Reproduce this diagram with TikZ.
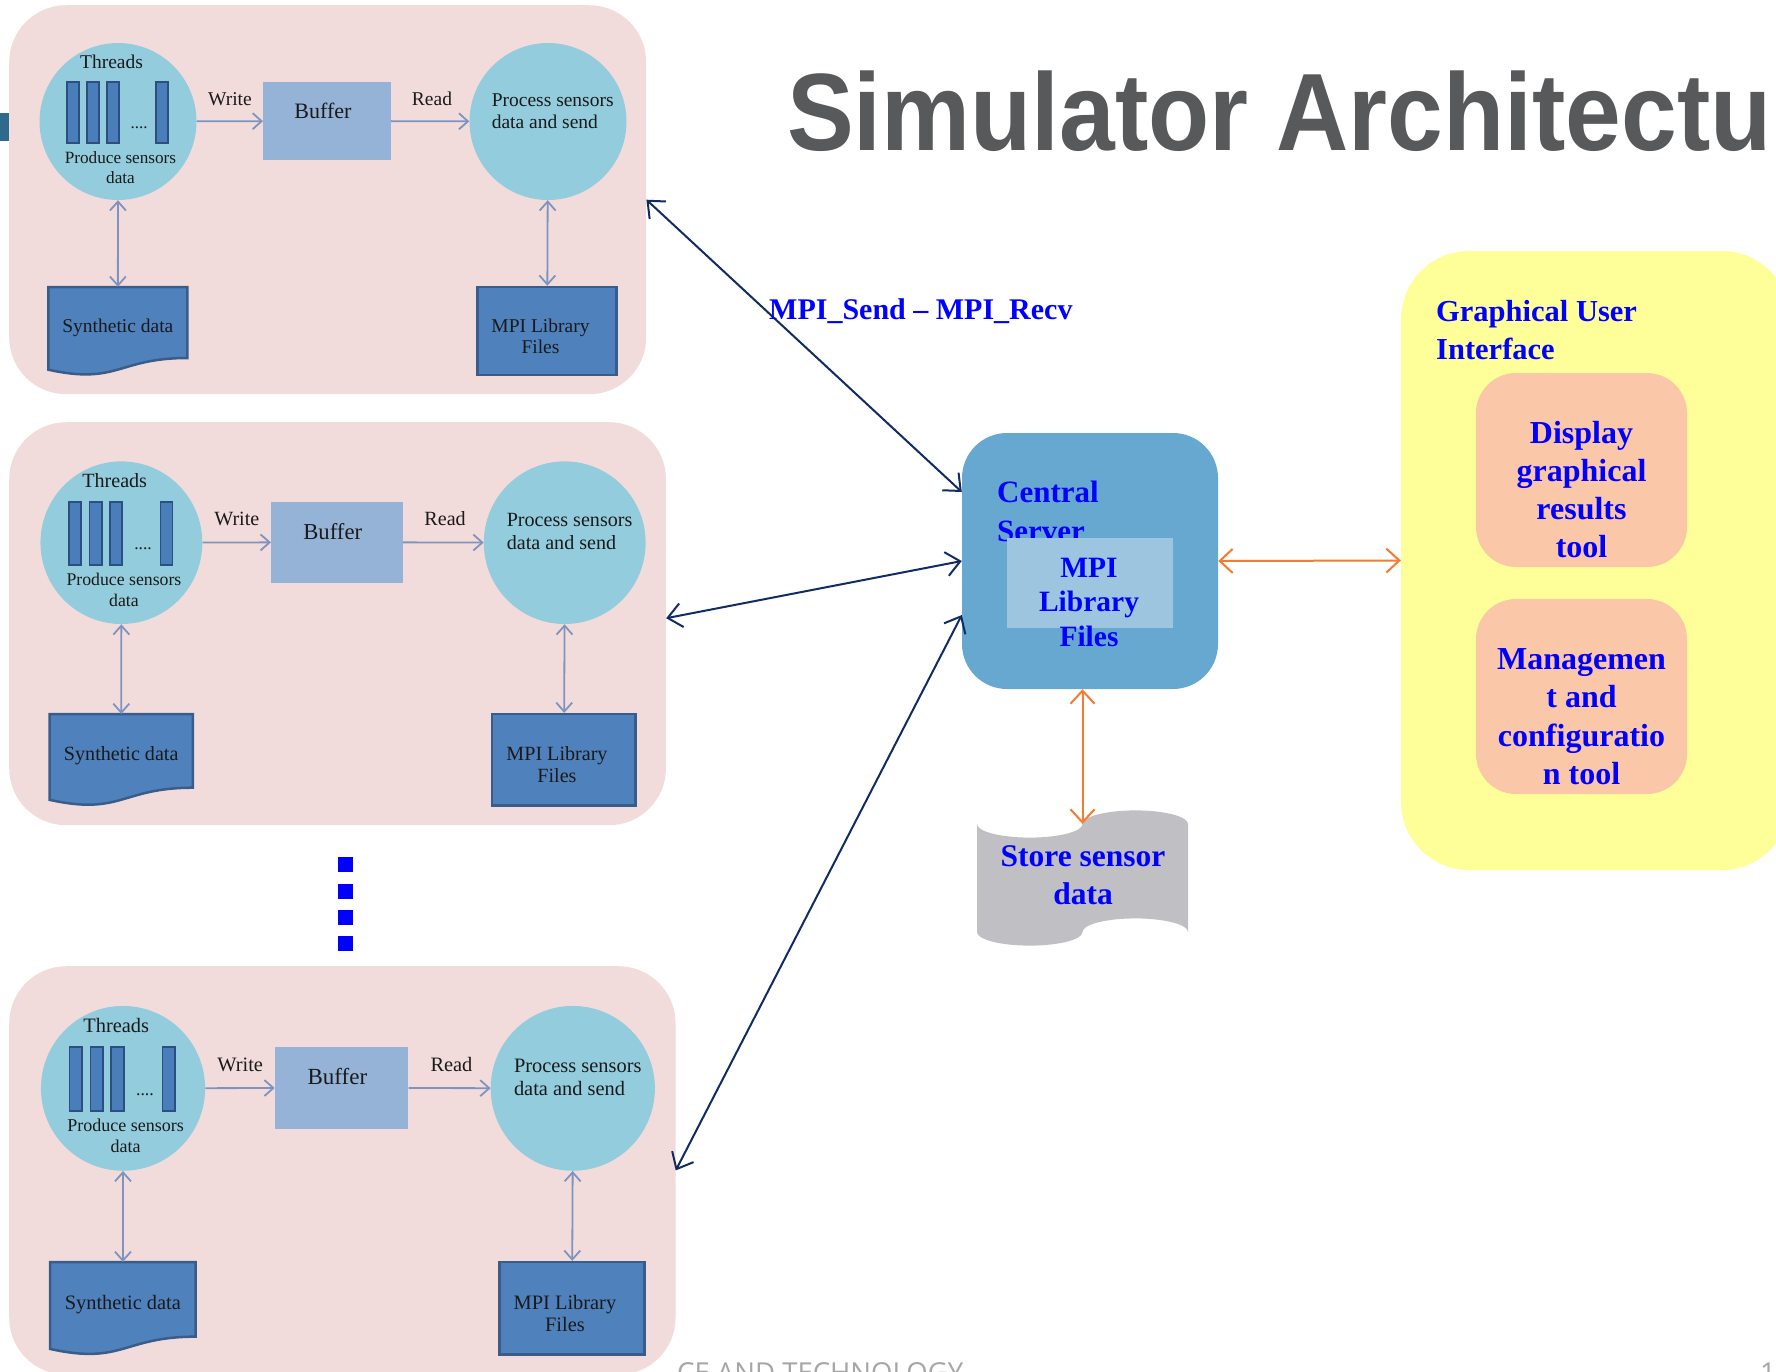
\documentclass[tikz,border=0pt]{standalone}
\usepackage{fontspec}
\setmainfont{Liberation Serif}
\newfontfamily\headfont{Liberation Sans}
\newfontfamily\footfont{Open Sans}
\usetikzlibrary{arrows.meta,calc}

\definecolor{panelpink}{HTML}{F2DCDB}
\definecolor{procfill}{HTML}{93CDDD}
\definecolor{buffill}{HTML}{95B3D7}
\definecolor{filefill}{HTML}{4F81BD}
\definecolor{fileedge}{HTML}{385D8A}
\definecolor{barfill}{HTML}{4A7EBB}
\definecolor{baredge}{HTML}{2C4F80}
\definecolor{flowline}{HTML}{7E94BE}
\definecolor{inktext}{HTML}{1A1A1A}
\definecolor{linknavy}{HTML}{102C62}
\definecolor{linkorange}{HTML}{F47B30}
\definecolor{serverfill}{HTML}{66A8D0}
\definecolor{serverinner}{HTML}{9DC5E0}
\definecolor{storegray}{HTML}{BFBFC4}
\definecolor{guiyellow}{HTML}{FFFF99}
\definecolor{toolpeach}{HTML}{FAC8A8}
\definecolor{titlegray}{HTML}{58595B}
\definecolor{footgray}{HTML}{A6A6A6}
\definecolor{tabbar}{HTML}{2D6A8E}
\definecolor{bluetext}{HTML}{0000FF}

% multi-line text whose baseline is that of the first line
\newcommand\linesc[1]{\begin{tabular}[t]{@{}c@{}}#1\end{tabular}}
\newcommand\linesl[1]{\begin{tabular}[t]{@{}l@{}}#1\end{tabular}}

\tikzset{
  flowtip/.tip={Straight Barb[length=9pt,width=16pt]},
  navytip/.tip={Straight Barb[length=14pt,width=24pt]},
  orangetip/.tip={Straight Barb[length=13pt,width=24pt]},
  panelbg/.style={rectangle, rounded corners=57pt, fill=panelpink, inner sep=0pt,
    minimum width=637pt, minimum height=389pt},
  procnode/.style={circle, fill=procfill, inner sep=0pt, minimum size=157pt},
  bufnode/.style={rectangle, fill=buffill, inner sep=0pt, minimum width=127.6pt,
    minimum height=78pt},
  barnode/.style={rectangle, fill=barfill, draw=baredge, line width=1.5pt, inner sep=0pt,
    minimum width=12pt, minimum height=61pt},
  fileshade/.style={fill=filefill, draw=fileedge, line width=2.5pt},
  ptext/.style={inner sep=0pt, text=inktext, font=\fontsize{19.5}{21}\selectfont},
  flow/.style={draw=flowline, line width=1.8pt, -flowtip},
  flowboth/.style={draw=flowline, line width=1.8pt, flowtip-flowtip},
  mpilink/.style={draw=linknavy, line width=2pt, navytip-navytip},
  orangelink/.style={draw=linkorange, line width=2pt, orangetip-orangetip},
  bluetxt/.style={inner sep=0pt, text=bluetext},
  toolbox/.style={rectangle, rounded corners=40pt, fill=toolpeach, inner sep=0pt,
    minimum width=211pt, minimum height=195pt},
  dotsq/.style={rectangle, fill=bluetext, inner sep=0pt, minimum size=15pt},
}

% one simulated sensor node: producer threads, buffer, sender, files
\newcommand\simpanel[1]{%
  \node[panelbg, anchor=north west] (#1-bg) at (0,0) {};
  \node[procnode] (#1-prod) at (109,116.5) {};
  \node[ptext, anchor=base] (#1-thr) at (102.5,63) {Threads};
  \node[barnode] (#1-t1) at (64,107.5) {};
  \node[barnode] (#1-t2) at (84,107.5) {};
  \node[barnode] (#1-t3) at (103.75,107.5) {};
  \node[barnode] (#1-t4) at (152.75,107.5) {};
  \node[ptext, anchor=base, font=\fontsize{17}{18}\selectfont] (#1-more) at (130,123) {....};
  \node[ptext, anchor=base, font=\fontsize{17.2}{20}\selectfont] (#1-prodtxt)
    at (111.5,158) {\linesc{Produce sensors\\data}};
  \node[bufnode] (#1-buf) at (318,116) {};
  \node[ptext, anchor=base, font=\fontsize{22}{24}\selectfont] (#1-buftxt) at (314,113) {Buffer};
  \node[ptext, anchor=base] (#1-wr) at (221,100) {Write};
  \node[ptext, anchor=base] (#1-rd) at (423,100) {Read};
  \node[procnode] (#1-send) at (539,116.5) {};
  \node[ptext, anchor=base west, font=\fontsize{19.5}{22}\selectfont] (#1-sendtxt)
    at (482.6,101) {\linesl{Process sensors\\data and send}};
  \path[fileshade] (39.4,282) -- (178.3,282) -- (178.3,353)
    .. controls (108.9,353) and (108.9,380) .. (39.4,364.7) -- cycle;
  \node[ptext, minimum width=138.9pt, minimum height=71pt, text height=19pt, text depth=0pt]
    (#1-syn) at (108.85,317.5) {Synthetic data};
  \node[rectangle, fileshade, inner sep=0pt, minimum width=138.9pt, minimum height=88pt]
    (#1-mpi) at (538.15,326) {};
  \node[ptext, anchor=base] (#1-mpitxt) at (531.5,327) {\linesc{MPI Library\\Files}};
  \draw[flow] (#1-prod) -- (#1-buf);
  \draw[flow] (#1-buf) -- (#1-send);
  \draw[flowboth] (#1-prod) -- (#1-syn);
  \draw[flowboth] (#1-send) -- (#1-mpi);
}

\begin{document}
\begin{tikzpicture}[x=1pt,y=-1pt]
\useasboundingbox (0,0) rectangle (1776,1371);
\clip (0,0) rectangle (1776,1371);
\fill[white] (0,0) rectangle (1776,1371);
\fill[tabbar] (0,113) rectangle (9,141);

% slide title and footer
\node[anchor=base west, inner sep=0pt, text=titlegray, xscale=0.91,
  font=\headfont\bfseries\fontsize{110}{110}\selectfont] (title) at (787,150) {Simulator Architectu};
\node[anchor=base west, inner sep=0pt, text=footgray,
  font=\footfont\fontsize{27.5}{28}\selectfont] (foot) at (677,1382) {CE AND TECHNOLOGY};
\node[anchor=base west, inner sep=0pt, text=footgray,
  font=\footfont\fontsize{27.5}{28}\selectfont] (pageno) at (1760,1382) {1};

% sensor nodes
\begin{scope}[shift={(9,5)}]
  \simpanel{p1}
\end{scope}
\begin{scope}[shift={(9,422)}, xscale=1.031, yscale=1.036, transform shape]
  \simpanel{p2}
\end{scope}
\begin{scope}[shift={(9,966)}, xscale=1.046, yscale=1.05, transform shape]
  \simpanel{p3}
\end{scope}

% vertical ellipsis between sensor nodes
\foreach \k/\yy in {1/864.5, 2/891, 3/917.5, 4/943.5}
  \node[dotsq] (gap\k) at (345.5,\yy) {};

% central server with its MPI library
\node[rectangle, rounded corners=45pt, fill=serverfill, inner sep=0pt,
  minimum width=256pt, minimum height=256pt] (srv) at (1090,561) {};
\node[bluetxt, anchor=base west, font=\fontsize{31}{38.4}\selectfont\bfseries] (srvtxt)
  at (997,502.6) {\linesl{Central\\Server}};
\node[rectangle, fill=serverinner, inner sep=0pt, minimum width=166pt, minimum height=90pt]
  (srvlib) at (1090,583) {};
\node[bluetxt, anchor=base, font=\fontsize{29.5}{34.5}\selectfont\bfseries] (srvlibtxt)
  at (1089,577) {\linesc{MPI\\Library\\Files}};

% sensor data store (punched tape)
\fill[storegray] (977,824)
  arc[start angle=180, end angle=360, x radius=52.75pt, y radius=13.6pt]
  arc[start angle=180, end angle=0, x radius=52.75pt, y radius=13.6pt]
  -- (1188,932)
  arc[start angle=0, end angle=180, x radius=52.75pt, y radius=13.6pt]
  arc[start angle=0, end angle=-180, x radius=52.75pt, y radius=13.6pt]
  -- cycle;
\node[inner sep=0pt, minimum width=211pt, minimum height=108pt] (store) at (1082.5,878) {};
\node[bluetxt, anchor=base, font=\fontsize{31.5}{38}\selectfont\bfseries] (storetxt)
  at (1083,866) {\linesc{Store sensor\\data}};

% graphical user interface
\node[rectangle, rounded corners=68pt, fill=guiyellow, inner sep=0pt,
  minimum width=389pt, minimum height=619pt] (gui) at (1595.5,560.5) {};
\node[bluetxt, anchor=base west, font=\fontsize{30.5}{37.5}\selectfont\bfseries] (guititle)
  at (1436,321.5) {\linesl{Graphical User\\Interface}};
\node[toolbox, minimum height=194pt] (disp) at (1581.5,470) {};
\node[bluetxt, anchor=base, font=\fontsize{32}{38}\selectfont\bfseries] (disptxt)
  at (1581.5,443) {\linesc{Display\\graphical\\results\\tool}};
\node[toolbox] (mgmt) at (1581.5,696.5) {};
\node[bluetxt, anchor=base, font=\fontsize{32}{38.5}\selectfont\bfseries] (mgmttxt)
  at (1581.5,669) {\linesc{Managemen\\t and\\configuratio\\n tool}};

% message passing links
\draw[mpilink] (p1-bg.east) -- ([yshift=69pt]srv.west);
\draw[mpilink] ([yshift=5.5pt]p2-bg.east) -- (srv.west);
\draw[mpilink] (p3-bg.east) -- ([yshift=-54pt]srv.west);
\node[bluetxt, anchor=base west, font=\fontsize{30}{36}\selectfont\bfseries] (mpilbl)
  at (769,319) {MPI\_Send – MPI\_Recv};

\draw[orangelink] (srv.east) -- (gui.west);
\draw[orangelink] (srv.south -| store.north) -- (store.north);
\end{tikzpicture}
\end{document}
